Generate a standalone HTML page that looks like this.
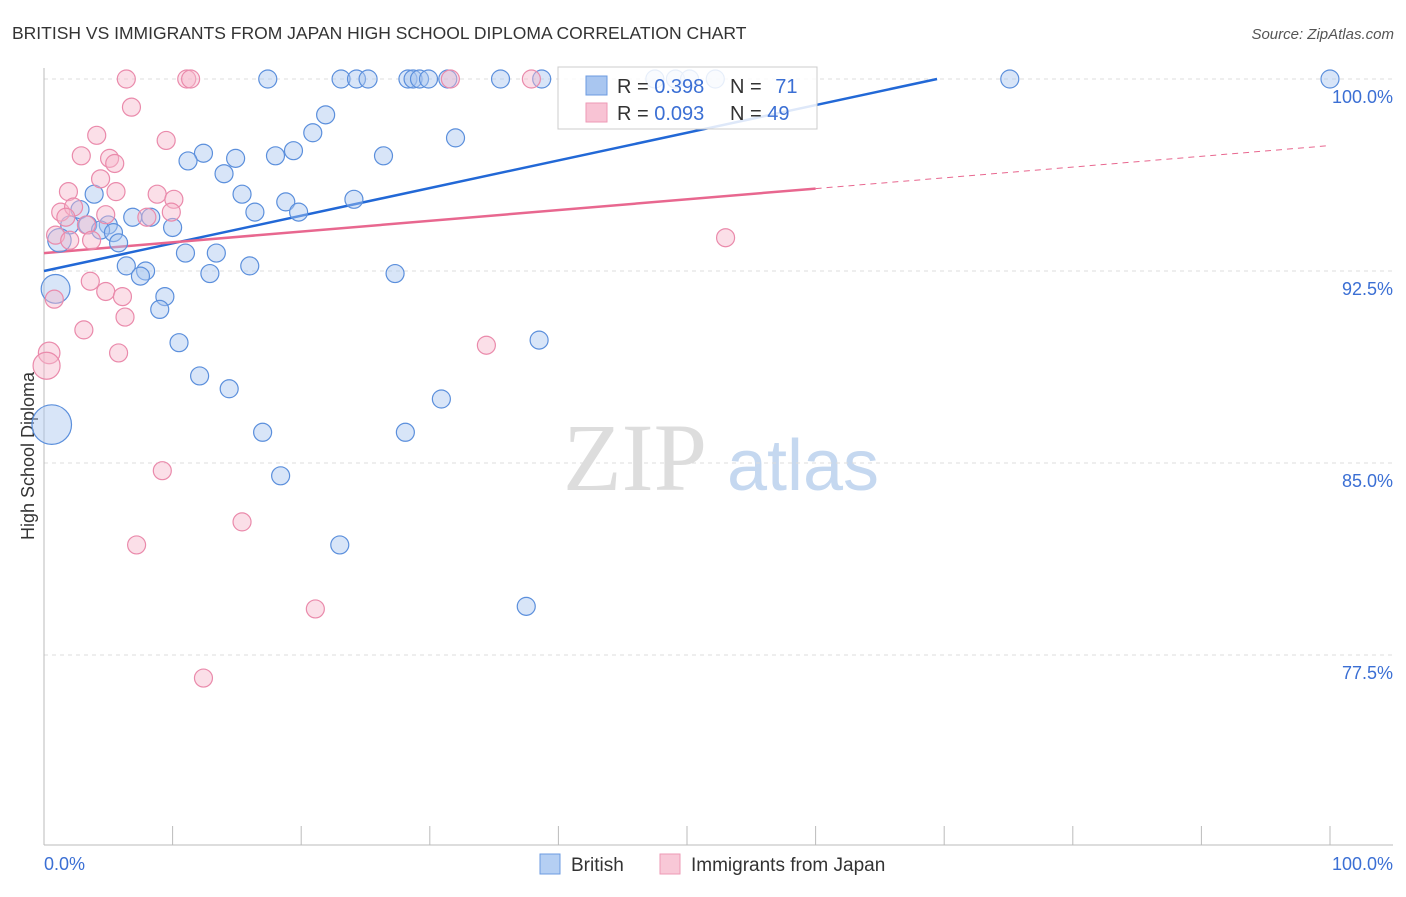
<!DOCTYPE html>
<html><head><meta charset="utf-8"><style>
body{margin:0;background:#fff;font-family:"Liberation Sans",sans-serif;}
</style></head><body>
<svg id="chart" width="1406" height="892" xmlns="http://www.w3.org/2000/svg" font-family="Liberation Sans, sans-serif">
<text x="12" y="39" font-size="17.5" fill="#333">BRITISH VS IMMIGRANTS FROM JAPAN HIGH SCHOOL DIPLOMA CORRELATION CHART</text>
<text x="1394" y="39" font-size="15" fill="#555" font-style="italic" text-anchor="end">Source: ZipAtlas.com</text>
<text transform="translate(34,456) rotate(-90)" font-size="18" fill="#333" text-anchor="middle">High School Diploma</text>
<g><text x="635" y="490" font-size="96" fill="#ddd" font-family="Liberation Serif, serif" text-anchor="middle">ZIP</text><text x="803" y="490" font-size="72" fill="#c5d8f0" text-anchor="middle">atlas</text></g>
<g id="grid"></g><g id="axes"></g><g id="trend"></g><g id="pts"></g>
<g>
<rect x="558" y="67" width="259" height="62" fill="#fff" fill-opacity="0.85" stroke="#ccc"/>
<rect x="586" y="76" width="21" height="19" fill="#a9c6f0" stroke="#6c9be0"/>
<rect x="586" y="103" width="21" height="19" fill="#f8c3d4" stroke="#ee9ab6"/>
<text x="617" y="93" font-size="20" fill="#333">R = <tspan fill="#3b6fd4">0.398</tspan></text>
<text x="730" y="93" font-size="20" fill="#333">N = <tspan fill="#3b6fd4" dx="8">71</tspan></text>
<text x="617" y="120" font-size="20" fill="#333">R = <tspan fill="#3b6fd4">0.093</tspan></text>
<text x="730" y="120" font-size="20" fill="#333">N = <tspan fill="#3b6fd4">49</tspan></text>
</g>
<g>
<rect x="540" y="854" width="20" height="20" fill="#b5cff3" stroke="#6c9be0"/>
<text x="571" y="871" font-size="19" fill="#333">British</text>
<rect x="660" y="854" width="20" height="20" fill="#f8c8d7" stroke="#ee9ab6"/>
<text x="691" y="871" font-size="19" fill="#333">Immigrants from Japan</text>
</g>
</svg>
<script>
const yTicks=[100,92.5,85,77.5];
const yTickLabels=["100.0%","92.5%","85.0%","77.5%"];
const xTickLabels=["0.0%","100.0%"];
const britishX=[17.4,23.1,24.3,25.2,28.3,28.7,29.2,29.9,31.4,35.5,38.7,47.5,49.1,50.2,52.2,75.1,100,21.9,20.9,32.0,12.4,11.2,14.9,18.0,19.4,26.4,14.0,3.9,15.4,18.8,24.1,16.4,19.8,2.8,6.9,8.3,2.0,3.4,5.0,4.4,5.4,10.0,1.2,5.8,11.0,13.4,6.4,7.9,7.5,16.0,12.9,27.3,9.4,9.0,0.9,10.5,38.5,12.1,14.4,30.9,17.0,28.1,18.4,23.0,37.5,0.6];
const britishY=[100,100,100,100,100,100,100,100,100,100,100,100,100,100,100,100,100,98.6,97.9,97.7,97.1,96.8,96.9,97.0,97.2,97.0,96.3,95.5,95.5,95.2,95.3,94.8,94.8,94.9,94.6,94.6,94.3,94.3,94.3,94.1,94.0,94.2,93.7,93.6,93.2,93.2,92.7,92.5,92.3,92.7,92.4,92.4,91.5,91.0,91.8,89.7,89.8,88.4,87.9,87.5,86.2,86.2,84.5,81.8,79.4,86.5];
const britishSize=[1,1,1,1,1,1,1,1,1,1,1,1,1,1,1,1,1,1,1,1,1,1,1,1,1,1,1,1,1,1,1,1,1,1,1,1,1,1,1,1,1,1,1.3,1,1,1,1,1,1,1,1,1,1,1,1.6,1,1,1,1,1,1,1,1,1,1,2.2];
const japanX=[6.4,11.1,11.4,31.6,37.9,6.8,4.1,9.5,2.9,5.1,5.5,4.4,1.9,5.6,8.8,10.1,1.3,2.3,9.9,4.8,8.0,1.7,3.3,0.9,2.0,3.7,53.0,3.6,4.8,6.1,0.8,6.3,3.1,5.8,34.4,0.4,0.2,9.2,15.4,7.2,21.1,12.4];
const japanY=[100,100,100,100,100,98.9,97.8,97.6,97.0,96.9,96.7,96.1,95.6,95.6,95.5,95.3,94.8,95.0,94.8,94.7,94.6,94.6,94.3,93.9,93.7,93.7,93.8,92.1,91.7,91.5,91.4,90.7,90.2,89.3,89.6,89.3,88.8,84.7,82.7,81.8,79.3,76.6];
const japanSize=[1,1,1,1,1,1,1,1,1,1,1,1,1,1,1,1,1,1,1,1,1,1,1,1,1,1,1,1,1,1,1,1,1,1,1,1.2,1.5,1,1,1,1,1];
const britishTrend=[92.5,103.3];
const japanTrend=[93.2,97.4];
const xs=v=>44+v*12.86;
const ys=v=>79+(100-v)*25.6;
const NS="http://www.w3.org/2000/svg";
function mk(tag,attrs,parent){const e=document.createElementNS(NS,tag);for(const k in attrs)e.setAttribute(k,attrs[k]);document.getElementById(parent).appendChild(e);return e;}
yTicks.forEach((t,i)=>{
 const g=mk('line',{x1:44,x2:1393,y1:ys(t),y2:ys(t),stroke:'#ddd','stroke-dasharray':'4 4'},'grid');
 
 
 const l=mk('text',{x:1393,y:ys(t)+24,'font-size':18,fill:'#3b6fd4','text-anchor':'end'},'grid');
 l.textContent=yTickLabels[i];
 
 
});
const ax=mk('line',{x1:44,x2:1393,y1:845,y2:845,stroke:'#bbb'},'axes');


const ay=mk('line',{x1:44,x2:44,y1:68,y2:845,stroke:'#bbb'},'axes');


for(let i=0;i<=10;i++){
 const t=mk('line',{x1:xs(i*10),x2:xs(i*10),y1:826,y2:845,stroke:'#bbb'},'axes');
 
 
}
[[0,'start',44],[100,'end',1393]].forEach((d,i)=>{
 const l=mk('text',{x:d[2],y:870,'font-size':18,fill:'#3b6fd4','text-anchor':d[1]},'axes');
 l.textContent=xTickLabels[i];
 
 
});
function dot(x,y,s,fill,stroke){
 const c=mk('circle',{cx:xs(x),cy:ys(y),r:9*s,fill:fill,'fill-opacity':0.45,stroke:stroke,'stroke-width':1.2},'pts');
 return c;
}
britishX.forEach((x,i)=>{const c=dot(x,britishY[i],britishSize[i],'#a9c6f0','#5b8fdc');
 
 });
japanX.forEach((x,i)=>{const c=dot(x,japanY[i],japanSize[i],'#f6b8cc','#ea8aab');
 
 });
const bx1=(100-britishTrend[0])/(britishTrend[1]-britishTrend[0])*100;
const bt=mk('line',{x1:xs(0),y1:ys(britishTrend[0]),x2:xs(Math.min(bx1,100)),y2:ys(Math.min(100,britishTrend[1])),stroke:'#2268d6','stroke-width':2.5},'trend');


const jm=japanTrend[0]+(japanTrend[1]-japanTrend[0])*0.6;
const jt=mk('line',{x1:xs(0),y1:ys(japanTrend[0]),x2:xs(60),y2:ys(jm),stroke:'#e8678f','stroke-width':2.5},'trend');


const jd=mk('line',{x1:xs(60),y1:ys(jm),x2:xs(100),y2:ys(japanTrend[1]),stroke:'#e8678f','stroke-width':1,'stroke-dasharray':'6 5'},'trend');


</script>
</body></html>
